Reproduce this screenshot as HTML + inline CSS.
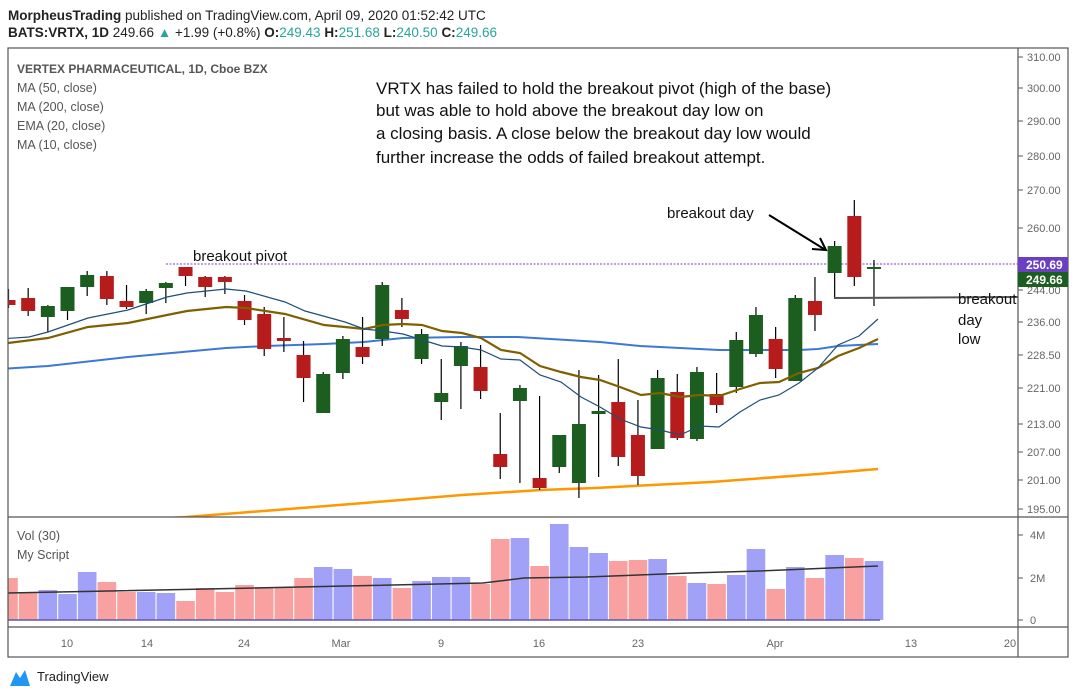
<!DOCTYPE html>
<html><head><meta charset="utf-8"><style>
html,body{margin:0;padding:0;background:#fff;width:1076px;height:695px;overflow:hidden}
svg{display:block}
text{font-family:"Liberation Sans",sans-serif}
</style></head><body>
<svg id="s" width="1076" height="695" xmlns="http://www.w3.org/2000/svg">
<rect width="1076" height="695" fill="#fff"/>
<text x="8" y="20" font-size="13.5" fill="#222"><tspan font-weight="bold">MorpheusTrading</tspan> published on TradingView.com, April 09, 2020 01:52:42 UTC</text>
<text x="8" y="37" font-size="13.5" fill="#222"><tspan font-weight="bold">BATS:VRTX, 1D</tspan> 249.66 <tspan fill="#26a69a">▲</tspan> +1.99 (+0.8%) <tspan font-weight="bold">O:</tspan><tspan fill="#26a69a">249.43</tspan> <tspan font-weight="bold">H:</tspan><tspan fill="#26a69a">251.68</tspan> <tspan font-weight="bold">L:</tspan><tspan fill="#26a69a">240.50</tspan> <tspan font-weight="bold">C:</tspan><tspan fill="#26a69a">249.66</tspan></text>
<defs><clipPath id="cp"><rect x="8" y="48" width="1010" height="469"/></clipPath>
<clipPath id="cv"><rect x="8" y="517" width="1010" height="110"/></clipPath></defs>
<g id="vol" clip-path="url(#cv)"></g>
<g clip-path="url(#cp)">
<polyline fill="none" stroke="#ff9800" stroke-width="2.5" points="150,519 186,517 276,510 364,503 462,495 541,490 595,488 711,482 818,474 878,469"/>
<polyline fill="none" stroke="#3c78d8" stroke-width="2" points="0,369 48,366 128,357 226,348 266,346 324,344 364,342 403,338 462,337 518,337 600,342 640,346 680,348 719,350 799,350 818,349 838,346 878,344"/>
<line x1="166" y1="264" x2="1018" y2="264" stroke="#7b3fd0" stroke-width="1" stroke-dasharray="2,1.5"/>
<g id="cdl"></g>
<polyline fill="none" stroke="#7f6000" stroke-width="2.2" points="0,344 48,338 88,327 128,323 167,315 187,311 226,307 246,308 285,314 324,325 345,327 364,329 383,325 403,324 422,325 442,331 462,333 481,338 501,350 520,353 540,366 561,372 581,377 600,380 620,387 641,395 660,393 680,397 700,395 719,396 740,389 760,383 779,382 799,373 818,368 838,356 859,348 878,339"/>
<polyline fill="none" stroke="#1f4e79" stroke-width="1.2" points="0,339 29,337 48,332 88,318 128,310 167,297 187,293 226,289 246,291 285,302 305,311 345,322 364,329 383,331 403,334 442,346 462,347 481,350 501,359 520,360 540,375 561,382 581,397 600,407 620,419 641,427 660,430 680,435 700,426 719,427 740,412 760,400 779,395 799,383 818,368 838,345 859,336 878,319"/>
<line x1="834" y1="298" x2="1018" y2="297" stroke="#555" stroke-width="2"/>
</g>
<line x1="769" y1="215" x2="824" y2="249" stroke="#000" stroke-width="2"/>
<polyline points="812,249 826,250 820,238" fill="none" stroke="#000" stroke-width="2"/>
<rect x="8" y="48" width="1060" height="609" fill="none" stroke="#555" stroke-width="1.2"/>
<line x1="1018" y1="48" x2="1018" y2="657" stroke="#555" stroke-width="1.2"/>
<line x1="8" y1="517" x2="1068" y2="517" stroke="#555" stroke-width="1.2"/>
<line x1="8" y1="627" x2="1068" y2="627" stroke="#555" stroke-width="1.2"/>
<g font-size="11" fill="#666" id="pax">
<text x="1027" y="61">310.00</text><text x="1027" y="92">300.00</text><text x="1027" y="125">290.00</text><text x="1027" y="160">280.00</text><text x="1027" y="194">270.00</text><text x="1027" y="232">260.00</text><text x="1027" y="294">244.00</text><text x="1027" y="326">236.00</text><text x="1027" y="359">228.50</text><text x="1027" y="392">221.00</text><text x="1027" y="428">213.00</text><text x="1027" y="456">207.00</text><text x="1027" y="484">201.00</text><text x="1027" y="513">195.00</text>
<text x="1030" y="539">4M</text><text x="1030" y="582">2M</text><text x="1030" y="624">0</text>
</g>
<g stroke="#555" stroke-width="1">
<line x1="1018" y1="57" x2="1023" y2="57"/><line x1="1018" y1="88" x2="1023" y2="88"/><line x1="1018" y1="121" x2="1023" y2="121"/><line x1="1018" y1="156" x2="1023" y2="156"/><line x1="1018" y1="190" x2="1023" y2="190"/><line x1="1018" y1="228" x2="1023" y2="228"/><line x1="1018" y1="290" x2="1023" y2="290"/><line x1="1018" y1="322" x2="1023" y2="322"/><line x1="1018" y1="355" x2="1023" y2="355"/><line x1="1018" y1="388" x2="1023" y2="388"/><line x1="1018" y1="424" x2="1023" y2="424"/><line x1="1018" y1="452" x2="1023" y2="452"/><line x1="1018" y1="480" x2="1023" y2="480"/><line x1="1018" y1="509" x2="1023" y2="509"/><line x1="1018" y1="535" x2="1023" y2="535"/><line x1="1018" y1="578" x2="1023" y2="578"/><line x1="1018" y1="620" x2="1023" y2="620"/>
</g>
<rect x="1018" y="257" width="50" height="15" fill="#6a3fc1"/>
<text x="1026" y="269" font-size="12" font-weight="bold" fill="#fff">250.69</text>
<rect x="1018" y="272" width="50" height="15" fill="#1b5e20"/>
<text x="1026" y="284" font-size="12" font-weight="bold" fill="#fff">249.66</text>
<g font-size="11" fill="#666" text-anchor="middle">
<text x="67" y="647">10</text><text x="147" y="647">14</text><text x="244" y="647">24</text><text x="341" y="647">Mar</text><text x="441" y="647">9</text><text x="539" y="647">16</text><text x="638" y="647">23</text><text x="775" y="647">Apr</text><text x="911" y="647">13</text><text x="1010" y="647">20</text>
</g>
<g font-size="12.5" fill="#555">
<text x="17" y="73" font-weight="bold" font-size="12">VERTEX PHARMACEUTICAL, 1D, Cboe BZX</text>
<text x="17" y="92">MA (50, close)</text>
<text x="17" y="111">MA (200, close)</text>
<text x="17" y="130">EMA (20, close)</text>
<text x="17" y="149">MA (10, close)</text>
<text x="17" y="540">Vol (30)</text>
<text x="17" y="559">My Script</text>
</g>
<g font-size="17" fill="#111">
<text x="376" y="94">VRTX has failed to hold the breakout pivot (high of the base)</text>
<text x="376" y="116">but  was able to hold above the breakout day low on</text>
<text x="376" y="139">a closing basis.  A close below the breakout day low would</text>
<text x="376" y="163">further increase the odds of failed breakout attempt.</text>
<text x="193" y="261" font-size="15">breakout pivot</text>
<text x="667" y="218" font-size="15">breakout day</text>
<text x="958" y="304" font-size="15">breakout</text>
<text x="958" y="325" font-size="15">day</text>
<text x="958" y="344" font-size="15">low</text>
</g>
<path d="M10 686 L16 672 L20 678 L25 670 L30 686 Z" fill="#2196f3"/>
<text x="37" y="681" font-size="13" fill="#222">TradingView</text>
</svg>
<script>
var C=[["r",300,305,289,308],["r",298,311,288,316],["g",306,317,305,332],["g",287,311,287,320],["g",275,287,271,296],["r",276,299,271,305],["r",301,307,285,309],["g",291,303,289,314],["g",283,288,282,303],["r",267,276,267,286],["r",277,287,276,297],["r",277,282,276,294],["r",301,320,295,325],["r",314,349,307,356],["r",338,341,317,352],["r",355,378,341,402],["g",374,413,372,413],["g",339,373,336,379],["r",347,357,317,364],["g",285,339,282,346],["r",310,319,298,327],["g",334,359,329,364],["g",393,402,359,420],["g",346,366,342,409],["r",367,391,345,399],["r",454,467,413,479],["g",388,401,385,483],["r",478,488,396,490],["g",435,467,435,473],["g",424,483,370,498],["g",411,414,375,477],["r",402,457,359,466],["r",435,476,400,485],["g",378,449,370,449],["r",392,438,374,440],["g",372,439,367,441],["r",394,405,373,413],["g",340,387,332,393],["g",315,354,307,357],["r",339,369,327,378],["g",298,381,295,381],["r",301,315,277,331],["g",246,273,241,299],["r",216,277,200,286],["g",267,269,260,306]];
var V=[578,592,590,594,572,582,592,592,593,601,588,592,585,587,587,578,567,569,576,578,588,581,577,577,584,539,538,566,524,547,553,561,560,559,576,583,584,575,549,589,567,578,555,558,561];
var VC="ppbbbppbbpppppppbbpbpbbbppbpbbbppbpbpbbpbpbpb";
var ns="http://www.w3.org/2000/svg",g=document.getElementById("cdl"),gv=document.getElementById("vol");
function el(p,t,a){var e=document.createElementNS(ns,t);for(var k in a)e.setAttribute(k,a[k]);p.appendChild(e);return e;}
for(var i=0;i<C.length;i++){var x=8.5+19.67*i,c=C[i],col=c[0]=="r"?"#b71c1c":"#1b5e20";
el(g,"line",{x1:x,x2:x,y1:c[3],y2:c[4],stroke:"#000","stroke-width":1.2});
el(g,"rect",{x:x-7,y:c[1],width:14,height:Math.max(2,c[2]-c[1]),fill:col});}
for(var i=0;i<V.length;i++){var x=8.5+19.67*i;
el(gv,"rect",{x:x-9.3,y:V[i],width:18.6,height:620-V[i],fill:VC[i]=="p"?"#f9a1a1":"#a1a1f8"});}
el(gv,"line",{x1:8,x2:880,y1:620,y2:620,stroke:"#5a5ab0","stroke-width":1.5});
el(gv,"polyline",{points:"8,593 207,589 345,586 483,583 524,578 586,577 690,573 759,571 878,566",fill:"none",stroke:"#333","stroke-width":1.5});
</script>
</body></html>
